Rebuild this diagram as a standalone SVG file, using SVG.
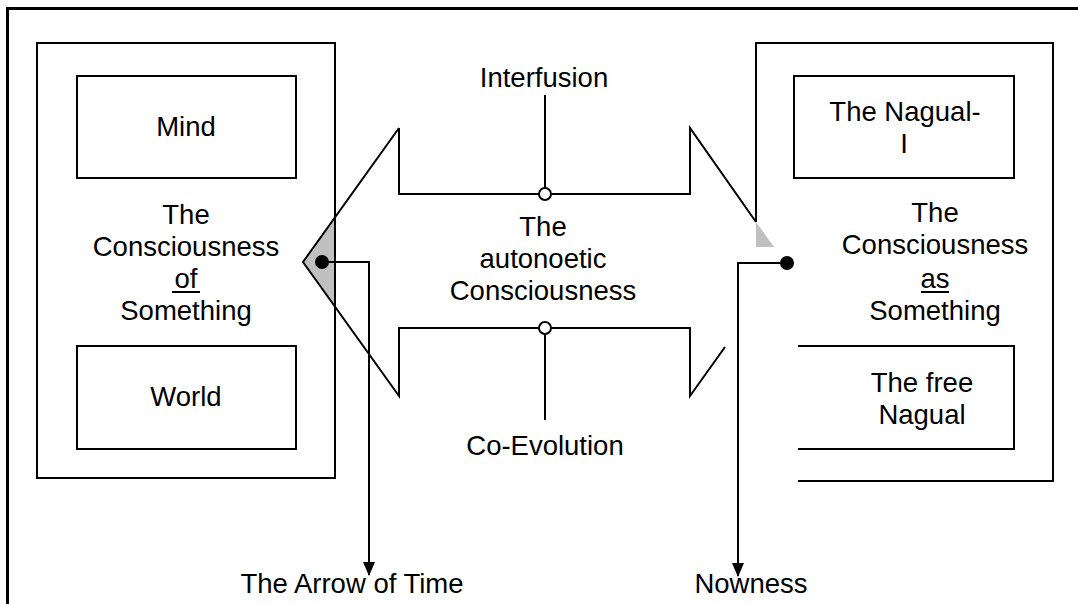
<svg xmlns="http://www.w3.org/2000/svg" width="1078" height="604" viewBox="0 0 1078 604">
<style>
.t{font-family:"Liberation Sans",Arial,sans-serif;font-size:27.5px;fill:#000;text-anchor:middle}
.b{fill:#fff;stroke:#000;stroke-width:2}
.l{fill:none;stroke:#000;stroke-width:2}
.g{fill:#c0c0c0;stroke:none}
</style>
<defs>
<marker id="ah" viewBox="0 0 14 12" refX="13" refY="6" markerWidth="14" markerHeight="12" markerUnits="userSpaceOnUse" orient="auto">
<path d="M0,0 L14,6 L0,12 Z" fill="#000"/>
</marker>
</defs>
<rect width="1078" height="604" fill="#fff"/>
<g id="frame"><path d="M7.5,604 V8.5 H1078" fill="none" stroke="#000" stroke-width="3"/></g>

<g id="left-box">
<rect class="b" x="37" y="43" width="298" height="435"/>
<text class="t" x="186" y="224">The</text>
<text class="t" x="186" y="256">Consciousness</text>
<text class="t" x="186" y="288">of</text>
<line x1="172" y1="292" x2="200" y2="292" stroke="#000" stroke-width="2"/>
<text class="t" x="186" y="320">Something</text>
</g>
<g id="mind"><rect class="b" x="77" y="76" width="219" height="102"/><text class="t" x="186" y="136">Mind</text></g>
<g id="world"><rect class="b" x="77" y="346" width="219" height="103"/><text class="t" x="186" y="406">World</text></g>

<g id="right-box">
<path class="l" d="M756,222 V43 H1053 V481 H798"/>
<text class="t" x="935" y="222">The</text>
<text class="t" x="935" y="254">Consciousness</text>
<text class="t" x="935" y="288">as</text>
<line x1="921" y1="292" x2="949" y2="292" stroke="#000" stroke-width="2"/>
<text class="t" x="935" y="320">Something</text>
</g>
<g id="nagual-i"><rect class="b" x="794" y="76" width="220" height="102"/><text class="t" x="905" y="121">The Nagual-</text><text class="t" x="904" y="153">I</text></g>
<g id="free-nagual"><path class="l" d="M798,346 H1014 V449 H798"/><text class="t" x="922" y="392">The free</text><text class="t" x="922" y="424">Nagual</text></g>

<g id="arrow">
<polygon class="g" points="303,262 335,217 335,307"/>
<polygon class="g" points="756,222 756,247 774,247"/>
<path class="l" d="M399,128 L303,262 L399,396 V328 H690 V396 L725,347"/>
<path class="l" d="M399,128 V194 H690 V128 L756,222"/>
<line x1="335" y1="43" x2="335" y2="478" stroke="#000" stroke-width="2"/>
<text class="t" x="543" y="236">The</text>
<text class="t" x="543" y="268">autonoetic</text>
<text class="t" x="543" y="300">Consciousness</text>
</g>

<g id="interfusion"><text class="t" x="544" y="87">Interfusion</text></g>
<g id="co-evolution"><text class="t" x="545" y="455">Co-Evolution</text></g>
<g id="arrow-of-time"><text class="t" x="352" y="593">The Arrow of Time</text></g>
<g id="nowness"><text class="t" x="751" y="593">Nowness</text></g>

<g id="connectors">
<line class="l" x1="545" y1="95" x2="545" y2="188"/>
<circle cx="545" cy="194" r="6" fill="#fff" stroke="#000" stroke-width="2"/>
<line class="l" x1="545" y1="334" x2="545" y2="420"/>
<circle cx="545" cy="328" r="6" fill="#fff" stroke="#000" stroke-width="2"/>
<path class="l" d="M322,262 H369 V575" marker-end="url(#ah)"/>
<circle cx="322" cy="262" r="7" fill="#000"/>
<path class="l" d="M787,263 H738 V576" marker-end="url(#ah)"/>
<circle cx="787" cy="263" r="7" fill="#000"/>
</g>
</svg>
